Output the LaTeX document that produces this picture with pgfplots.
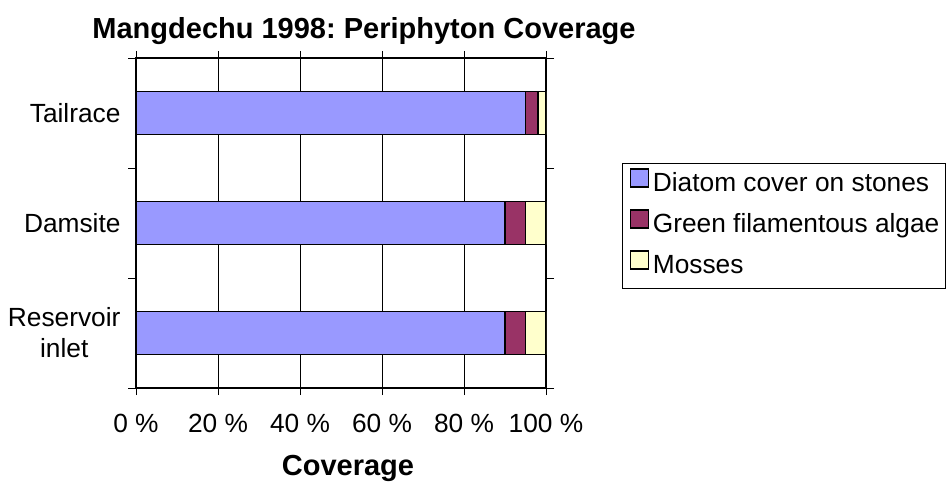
\documentclass[border=0pt]{standalone}
\usepackage{fontspec}
\setmainfont{Liberation Sans}
\usepackage{pgfplots}
\pgfplotsset{compat=1.18}
\frenchspacing
\definecolor{diatom}{HTML}{9999FF}
\definecolor{algae}{HTML}{993366}
\definecolor{moss}{HTML}{FFFFCC}
\newcommand\lab{\fontsize{26.3bp}{31bp}\selectfont}
\newcommand\ttl{\fontsize{29bp}{34bp}\selectfont\bfseries}
\begin{document}
\begin{tikzpicture}
\useasboundingbox (0,0) rectangle (946bp,483bp);
\begin{axis}[
  at={(136bp,95bp)}, anchor=south west,
  xbar stacked,
  width=410bp, height=330bp, scale only axis,
  xmin=0, xmax=100, ymin=-0.5, ymax=2.5,
  bar width=43bp,
  xtick={0,20,40,60,80,100},
  xticklabels={0 \%,20 \%,40 \%,60 \%,80 \%,100 \%},
  ytick={0,1,2},
  yticklabels={Reservoir\\inlet, Damsite, Tailrace},
  minor ytick={-0.5,0.5,1.5,2.5},
  xmajorgrids, grid style={black, line width=1bp},
  tick align=outside,
  major tick length=7bp, minor tick length=8bp,
  major y tick style={draw=none},
  tick style={black, line width=1bp},
  axis line style={line width=1.8bp},
  yticklabel style={align=center, font=\lab, xshift=-5bp},
  xticklabel style={font=\lab, yshift=-16bp},
  xlabel={Coverage},
  xlabel style={font=\ttl, at={(axis description cs:0.517,-0.265)}, anchor=base},
  legend cell align=left,
  legend style={at={(1.1854,0.6818)}, anchor=north west, draw=black, line width=1bp,
    font=\lab, inner xsep=2bp, inner ysep=1bp, row sep=0pt,
    nodes={text height=19bp, text depth=6bp, inner ysep=8bp, inner xsep=4bp}},
  legend image code/.code={\path (0bp,0bp); \draw[#1, draw=black, line width=1.2bp] (5bp,-2bp) rectangle (23bp,16bp);},
]
\addplot[fill=diatom, draw=black, line width=1.5bp] coordinates {(90,0) (90,1) (95,2)};
\addplot[fill=algae, draw=black, line width=1.5bp] coordinates {(5,0) (5,1) (3,2)};
\addplot[fill=moss, draw=black, line width=1.5bp] coordinates {(5,0) (5,1) (2,2)};
\legend{Diatom cover on stones, Green filamentous algae, Mosses}
\end{axis}
\node[font=\ttl] at (364bp,452bp) {Mangdechu 1998: Periphyton Coverage};
\end{tikzpicture}
\end{document}
